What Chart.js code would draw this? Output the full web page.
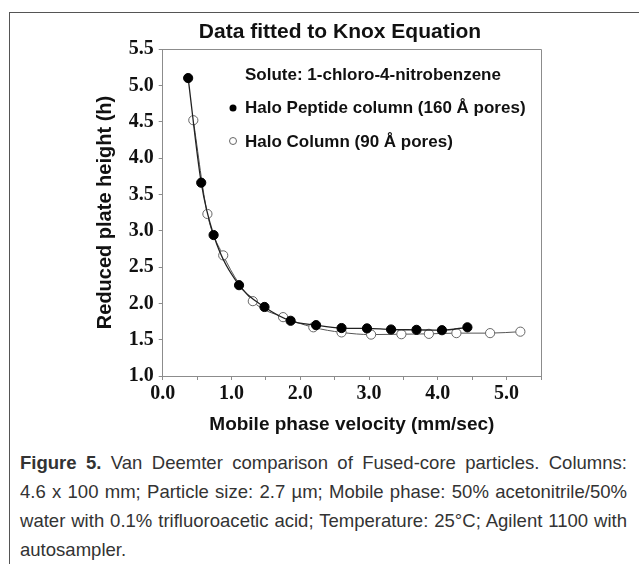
<!DOCTYPE html>
<html>
<head>
<meta charset="utf-8">
<script src="https://cdn.jsdelivr.net/npm/chart.js@4"></script>
<style>
  body { margin: 0; background: #fff; }
  #frame { position: absolute; left: 9px; top: 12px; width: 640px; height: 560px;
           border-left: 1.5px solid #555; border-top: 1.5px solid #555; }
  #wrap { position: absolute; left: 0; top: 0; width: 639px; height: 440px; }
  #caption { position: absolute; left: 20px; top: 448px; width: 607px;
             font-family: "Liberation Sans", Arial, sans-serif;
             font-size: 19px; color: #333; transform-origin: 0 0; }
  .ln { height: 29px; line-height: 29px; text-align: justify; text-align-last: justify; white-space: nowrap; }
  .ln.last { text-align-last: left; }
  .ln span.measure { display: inline-block; }
</style>
</head>
<body>
<div id="frame"></div>
<div id="wrap"><canvas id="chart" width="639" height="440"></canvas></div>
<div id="caption">
  <div class="ln"><span class="measure"><b>Figure 5.</b> Van Deemter comparison of Fused-core particles. Columns:</span></div>
  <div class="ln"><span class="measure">4.6 x 100 mm; Particle size: 2.7 µm; Mobile phase: 50% acetonitrile/50%</span></div>
  <div class="ln"><span class="measure">water with 0.1% trifluoroacetic acid; Temperature: 25°C; Agilent 1100 with</span></div>
  <div class="ln last"><span>autosampler.</span></div>
</div>
<script>
// Halo Peptide column (160 Å pores) - filled circles
const velocityPeptide = [0.37, 0.56, 0.74, 1.11, 1.48, 1.86, 2.23, 2.60, 2.97, 3.32, 3.69, 4.06, 4.43];
const hPeptide = [5.10, 3.66, 2.94, 2.25, 1.95, 1.76, 1.70, 1.66, 1.655, 1.64, 1.635, 1.63, 1.67];

// Halo Column (90 Å pores) - open circles
const velocityHalo = [0.445, 0.65, 0.88, 1.31, 1.75, 2.19, 2.60, 3.03, 3.47, 3.87, 4.27, 4.76, 5.20];
const hHalo = [4.52, 3.23, 2.66, 2.03, 1.81, 1.67, 1.60, 1.57, 1.575, 1.58, 1.59, 1.59, 1.61];

const seriesLabels = ['Halo Peptide column (160 Å pores)', 'Halo Column (90 Å pores)'];
const chartTitle = 'Data fitted to Knox Equation';
const legendTitle = 'Solute: 1-chloro-4-nitrobenzene';
const xTickLabels = ['0.0', '1.0', '2.0', '3.0', '4.0', '5.0'];
const yTickLabels = ['1.0', '1.5', '2.0', '2.5', '3.0', '3.5', '4.0', '4.5', '5.0', '5.5'];

const sansBold = '"Liberation Sans", Arial, sans-serif';
const serifBold = '"Liberation Serif", "Times New Roman", serif';

// fit the justified caption lines to the 607px column: one common horizontal squeeze
(function fitCaption() {
  const cap = document.getElementById('caption');
  const spans = cap.querySelectorAll('span.measure');
  let widest = 0;
  spans.forEach(s => { widest = Math.max(widest, s.getBoundingClientRect().width); });
  const k = 600 / widest;
  spans.forEach(s => { s.style.display = 'inline'; });
  cap.querySelectorAll('.ln').forEach(l => { l.style.whiteSpace = 'normal'; });
  cap.style.width = (607 / k) + 'px';
  cap.style.transform = 'scaleX(' + k + ')';
})();

function toPoints(xs, ys) {
  return xs.map((x, i) => ({ x: x, y: ys[i] }));
}

// plot frame, title and the in-plot legend
const extras = {
  id: 'extras',
  afterDraw(chart) {
    const ctx = chart.ctx;
    const a = chart.chartArea;
    ctx.save();
    ctx.strokeStyle = '#8c8c8c';
    ctx.lineWidth = 1;
    ctx.beginPath();
    ctx.moveTo(a.left, a.top + 0.5);
    ctx.lineTo(a.right + 0.5, a.top + 0.5);
    ctx.lineTo(a.right + 0.5, a.bottom);
    ctx.stroke();

    ctx.fillStyle = '#111';
    ctx.textAlign = 'center';
    ctx.textBaseline = 'alphabetic';
    ctx.font = 'bold 21px ' + sansBold;
    ctx.fillText(chartTitle, 340, 38);

    ctx.textAlign = 'left';
    ctx.font = 'bold 17px ' + sansBold;
    ctx.fillText(legendTitle, 245, 80);
    ctx.fillText(seriesLabels[0], 245, 113);
    ctx.fillText(seriesLabels[1], 245, 147);

    ctx.beginPath();
    ctx.arc(233, 108, 3.5, 0, Math.PI * 2);
    ctx.fillStyle = '#000';
    ctx.fill();
    ctx.beginPath();
    ctx.arc(233, 141, 3.5, 0, Math.PI * 2);
    ctx.fillStyle = '#fff';
    ctx.fill();
    ctx.strokeStyle = '#666';
    ctx.stroke();
    ctx.restore();
  }
};

new Chart(document.getElementById('chart'), {
  type: 'scatter',
  data: {
    datasets: [
      {
        label: seriesLabels[0],
        data: toPoints(velocityPeptide, hPeptide),
        showLine: true,
        cubicInterpolationMode: 'monotone',
        borderColor: '#222',
        borderWidth: 1.3,
        pointRadius: 4.6,
        pointBackgroundColor: '#000',
        pointBorderColor: '#000',
        pointBorderWidth: 1
      },
      {
        label: seriesLabels[1],
        data: toPoints(velocityHalo, hHalo),
        showLine: true,
        cubicInterpolationMode: 'monotone',
        borderColor: '#555',
        borderWidth: 1,
        pointRadius: 4.6,
        pointBackgroundColor: '#fff',
        pointBorderColor: '#666',
        pointBorderWidth: 1
      }
    ]
  },
  options: {
    responsive: false,
    animation: false,
    layout: { padding: { left: 93, right: 98, top: 49, bottom: 4 } },
    plugins: {
      legend: { display: false },
      tooltip: { enabled: false }
    },
    scales: {
      x: {
        type: 'linear',
        min: 0,
        max: 5.5,
        afterFit(scale) { scale.height = 60; },
        border: { color: '#8c8c8c', width: 1 },
        grid: { drawOnChartArea: false, drawTicks: true, tickLength: 4, color: '#8c8c8c' },
        ticks: {
          stepSize: 0.5,
          autoSkip: false,
          maxRotation: 0,
          padding: 2,
          color: '#111',
          font: { family: serifBold, size: 20, weight: 'bold' },
          callback: function (v) {
            const s = v.toFixed(1);
            return xTickLabels.includes(s) ? s : '';
          }
        },
        title: {
          display: true,
          text: 'Mobile phase velocity (mm/sec)',
          color: '#111',
          padding: 0,
          font: { family: sansBold, size: 19, weight: 'bold' }
        }
      },
      y: {
        type: 'linear',
        min: 1,
        max: 5.5,
        afterFit(scale) { scale.width = 69.7; },
        border: { color: '#8c8c8c', width: 1 },
        grid: { drawOnChartArea: false, drawTicks: true, tickLength: 4, color: '#8c8c8c' },
        ticks: {
          stepSize: 0.5,
          autoSkip: false,
          padding: 5,
          color: '#111',
          font: { family: serifBold, size: 20, weight: 'bold' },
          callback: function (v) {
            const s = v.toFixed(1);
            return yTickLabels.includes(s) ? s : '';
          }
        },
        title: {
          display: true,
          text: 'Reduced plate height (h)',
          color: '#111',
          padding: 0,
          font: { family: sansBold, size: 20, weight: 'bold' }
        }
      }
    }
  },
  plugins: [extras]
});
</script>
</body>
</html>
